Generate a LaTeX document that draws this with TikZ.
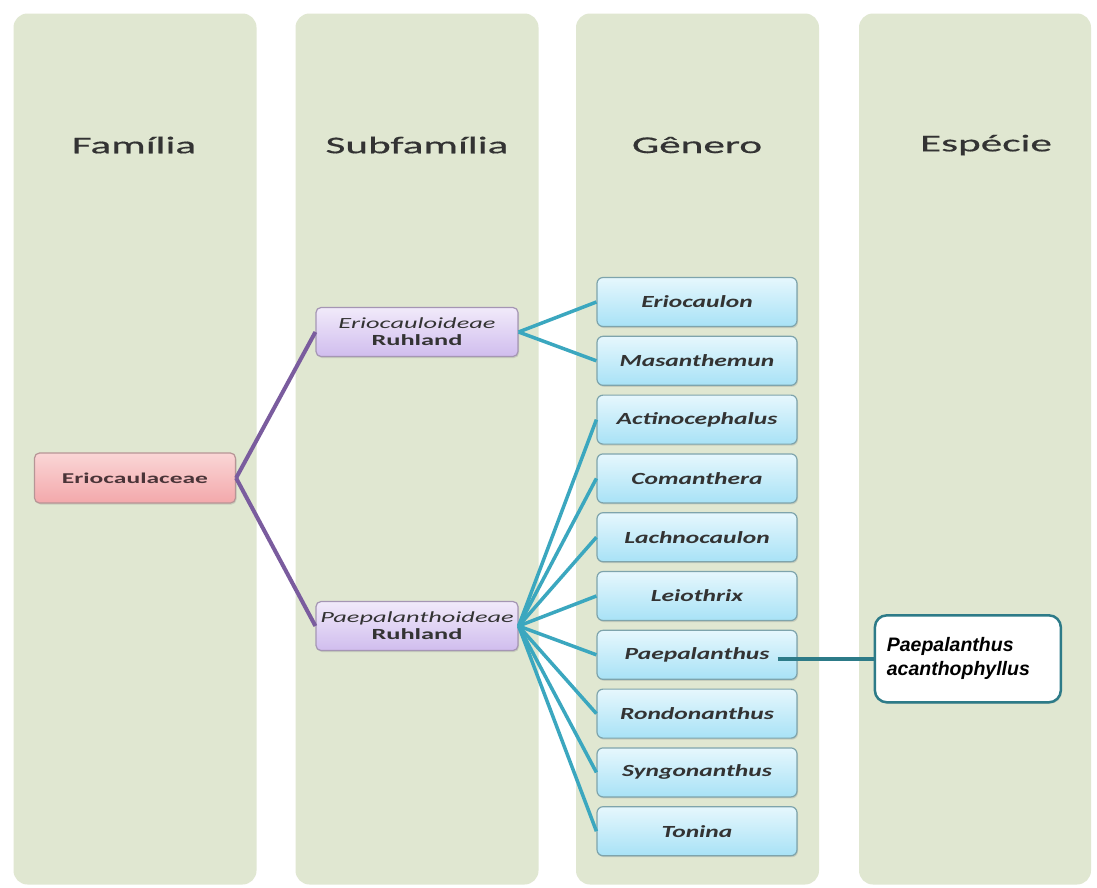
\documentclass[tikz,border=0pt]{standalone}
\usepackage{fontspec}
\setmainfont{Carlito}
\newfontfamily\hdrfont[FakeStretch=1.8,FakeBold=0.6]{Carlito}
\newfontfamily\genfont[FakeStretch=1.5]{Carlito}
\newfontfamily\subfont[FakeStretch=1.7]{Carlito}
\newfontfamily\spfont{Liberation Sans}
\usetikzlibrary{shadows}
\definecolor{colbg}{HTML}{E0E7D1}
\definecolor{pinkT}{HTML}{FAD6D6}
\definecolor{pinkB}{HTML}{F3A8AB}
\definecolor{pinkD}{HTML}{B79596}
\definecolor{purT}{HTML}{F1EAFA}
\definecolor{purB}{HTML}{D0BDEE}
\definecolor{purD}{HTML}{A596B4}
\definecolor{cyT}{HTML}{E6F7FD}
\definecolor{cyB}{HTML}{A8E2F6}
\definecolor{cyD}{HTML}{7EA4AC}
\definecolor{purline}{HTML}{7A5C9E}
\definecolor{cyline}{HTML}{3BA7BF}
\definecolor{spline}{HTML}{2D7B88}
\definecolor{txt}{HTML}{333333}
\definecolor{famtxt}{HTML}{4A3438}
\tikzset{
  colbox/.style={fill=colbg, rounded corners=14pt, minimum width=243pt, minimum height=871pt, inner sep=0pt},
  hdr/.style={font=\hdrfont\fontsize{24}{27}\selectfont, text=txt},
  famnode/.style={rounded corners=5pt, draw=pinkD, line width=1.2pt, top color=pinkT, bottom color=pinkB,
    minimum width=201pt, minimum height=50pt, font=\subfont\bfseries\fontsize{15}{17}\selectfont, text=famtxt,
    drop shadow={shadow xshift=1pt, shadow yshift=-1.5pt, opacity=0.25}},
  subnode/.style={rounded corners=5pt, draw=purD, line width=1.2pt, top color=purT, bottom color=purB,
    minimum width=202pt, minimum height=49pt, align=center, font=\subfont\fontsize{15.5}{17}\selectfont, text=txt,
    drop shadow={shadow xshift=1pt, shadow yshift=-1.5pt, opacity=0.25}},
  gennode/.style={rounded corners=6pt, draw=cyD, line width=1.2pt, top color=cyT, bottom color=cyB,
    minimum width=200pt, minimum height=49pt, font=\genfont\itshape\bfseries\fontsize{17}{19}\selectfont, text=txt,
    drop shadow={shadow xshift=1pt, shadow yshift=-1.5pt, opacity=0.25}},
  spnode/.style={rounded corners=12pt, draw=spline, line width=2.5pt, fill=white, align=left,
    minimum width=186pt, minimum height=87pt, text width=162pt, inner xsep=11pt,
    font=\spfont\bfseries\itshape\fontsize{19.5}{24}\selectfont, text=black,
    drop shadow={shadow xshift=1pt, shadow yshift=-1.5pt, opacity=0.25}},
  pline/.style={draw=purline, line width=4pt},
  cline/.style={draw=cyline, line width=3.5pt},
}
\begin{document}
\begin{tikzpicture}[x=1pt,y=-1pt]
\useasboundingbox (0,0) rectangle (1097,887);
\fill[white] (0,0) rectangle (1097,887);
% columns
\node[colbox] (c1) at (135,449) {};
\node[colbox] (c2) at (417,449) {};
\node[colbox] (c3) at (697.5,449) {};
\node[colbox, minimum width=232pt] (c4) at (975,449) {};
% headers
\node[hdr] (h1) at (134,145) {Família};
\node[hdr] (h2) at (417,145) {Subfamília};
\node[hdr] (h3) at (697,145) {Gênero};
\node[hdr] (h4) at (986,145) {Espécie};
% family
\node[famnode] (fam) at (135,478) {Eriocaulaceae};
% subfamilies
\node[subnode] (s1) at (417,332) {\itshape Eriocauloideae\\ \bfseries Ruhland};
\node[subnode] (s2) at (417,626) {\itshape Paepalanthoideae\\ \bfseries Ruhland};
% genera
\foreach \n/\t [count=\i from 0] in {g1/Eriocaulon, g2/Masanthemun, g3/Actinocephalus, g4/Comanthera,
  g5/Lachnocaulon, g6/Leiothrix, g7/Paepalanthus, g8/Rondonanthus, g9/Syngonanthus, g10/Tonina}
  \node[gennode] (\n) at (697,302+58.8*\i) {\t};
% species
\node[spnode, anchor=west] (sp) at ([xshift=76pt,yshift=-4pt]g7.east) {Paepalanthus\\acanthophyllus};
% connectors
\draw[pline] (fam.east) -- (s1.west);
\draw[pline] (fam.east) -- (s2.west);
\foreach \g in {g1,g2} \draw[cline] (s1.east) -- (\g.west);
\foreach \g in {g3,g4,g5,g6,g7,g8,g9,g10} \draw[cline] (s2.east) -- (\g.west);
\coordinate (p7) at ([xshift=-20pt,yshift=-4pt]g7.east);
\draw[draw=spline, line width=4pt] (p7) -- (p7 -| sp.west);
\end{tikzpicture}
\end{document}
